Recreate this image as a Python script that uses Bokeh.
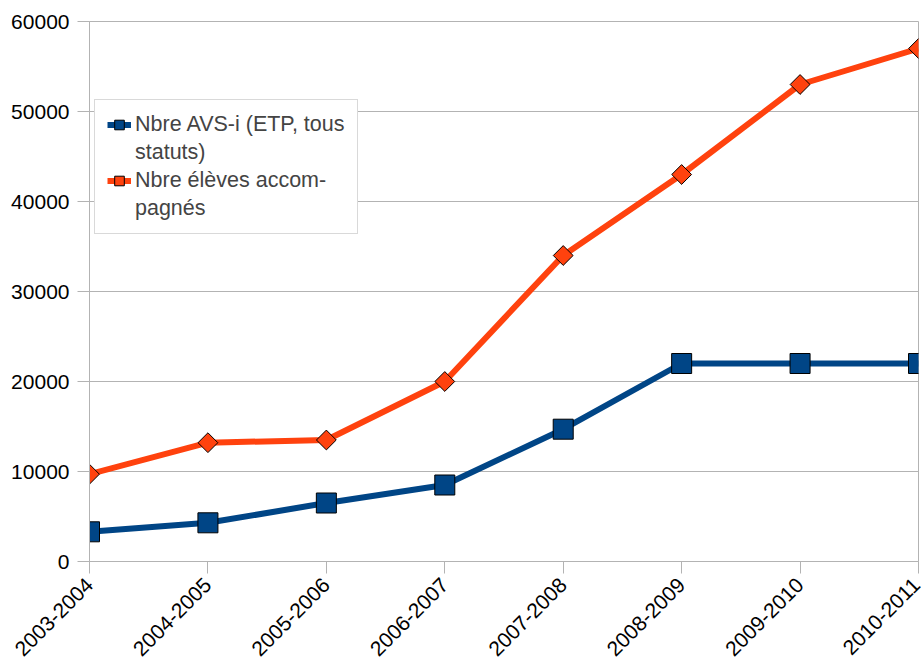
import math
from bokeh.plotting import figure
from bokeh.models import FixedTicker, Legend, LegendItem
from bokeh.embed import file_html
from bokeh.resources import INLINE

years = ["2003-2004", "2004-2005", "2005-2006", "2006-2007",
         "2007-2008", "2008-2009", "2009-2010", "2010-2011"]
avs = [3300, 4300, 6500, 8500, 14700, 22000, 22000, 22000]
eleves = [9700, 13200, 13500, 20000, 34000, 43000, 53000, 57000]
y_ticks = [0, 10000, 20000, 30000, 40000, 50000, 60000]
legend_lines = [["Nbre AVS-i (ETP, tous", "statuts)"],
                ["Nbre élèves accom-", "pagnés"]]

BLUE = "#004586"
ORANGE = "#ff420e"
GRAY = "#b3b3b3"
FONT = "Liberation Sans"

xs = list(range(len(years)))

p = figure(width=921, height=665, output_backend="svg", toolbar_location=None,
           x_range=(0, len(years) - 1), y_range=(0, 60000),
           min_border_left=89, min_border_right=3, min_border_top=21, min_border_bottom=104)
p.outline_line_color = GRAY
p.outline_line_width = 1
p.xgrid.visible = False
p.ygrid.grid_line_color = GRAY
p.ygrid.ticker = FixedTicker(ticks=y_ticks)

p.xaxis.ticker = FixedTicker(ticks=xs)
p.xaxis.major_label_overrides = {i: y for i, y in enumerate(years)}
p.xaxis.major_label_orientation = math.pi / 4
p.yaxis.ticker = FixedTicker(ticks=y_ticks)
for ax in (p.xaxis[0], p.yaxis[0]):
    ax.axis_line_color = GRAY
    ax.major_tick_line_color = GRAY
    ax.major_tick_out = 12
    ax.major_tick_in = 0
    ax.minor_tick_line_color = None
    ax.major_label_text_font = FONT
    ax.major_label_text_font_size = "21px"
    ax.major_label_text_color = "black"
p.yaxis.major_label_standoff = 8
p.xaxis.major_label_standoff = 8

l1 = p.line(xs, avs, line_color=BLUE, line_width=6)
s1 = p.scatter(xs, avs, marker="square", size=20, fill_color=BLUE, line_color="black", line_width=1)
l2 = p.line(xs, eleves, line_color=ORANGE, line_width=6)
s2 = p.scatter(xs, eleves, marker="square", angle=math.pi / 4, size=14,
               fill_color=ORANGE, line_color="black", line_width=1)
blank = p.line([], [], line_alpha=0)

legend = Legend(items=[
    LegendItem(label=legend_lines[0][0], renderers=[l1, s1]),
    LegendItem(label=legend_lines[0][1], renderers=[blank]),
    LegendItem(label=legend_lines[1][0], renderers=[l2, s2]),
    LegendItem(label=legend_lines[1][1], renderers=[blank]),
], location=(5, 327))
legend.label_text_font = FONT
legend.label_text_font_size = "21.5px"
legend.border_line_color = GRAY
legend.border_line_width = 1
legend.background_fill_alpha = 1
legend.glyph_width = 24
legend.glyph_height = 25
legend.label_height = 25
legend.label_standoff = 4
legend.padding = 12
legend.spacing = 3
legend.margin = 0
p.add_layout(legend)

open("out.html", "w").write(file_html(p, INLINE))
